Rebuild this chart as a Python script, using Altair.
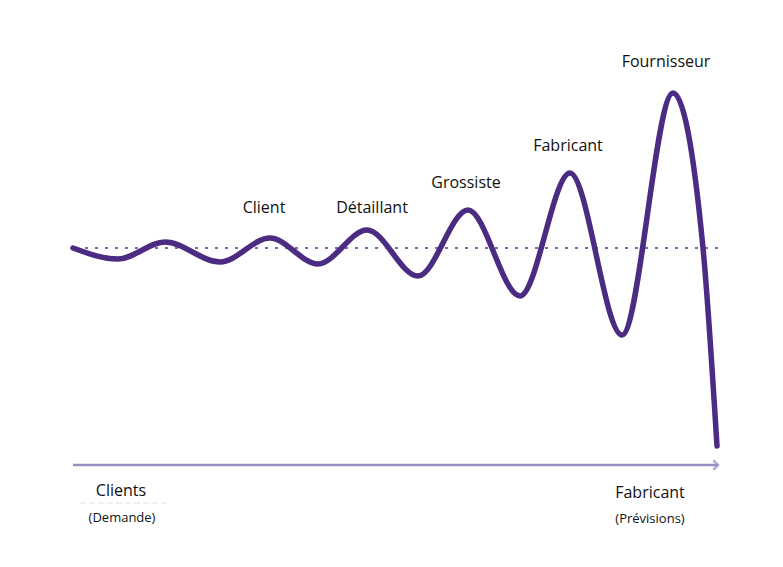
import altair as alt
import pandas as pd

# wave extrema (x position, level relative to baseline)
wave_x = [73, 118, 165, 220, 270, 318, 367, 418, 468, 520, 570, 622, 673, 703, 717]
wave_y = [0, -11, 6, -14, 10, -16, 18, -28, 38, -48, 75, -87, 155, 0, -198]

base_x = [75, 722]
base_y = [0, 0]

arrow_x = [73, 718]
arrow_y = [-217, -217]

faint_x = [80, 170]
faint_y = [-255, -255]

stage_labels = ["Client", "Détaillant", "Grossiste", "Fabricant", "Fournisseur"]
stage_x = [264, 372, 466, 568, 666]
stage_y = [40, 40, 65, 102, 186]

bottom_main = ["Clients", "Fabricant"]
bottom_main_x = [121, 650]
bottom_main_y = [-243, -245]
bottom_sub = ["(Demande)", "(Prévisions)"]
bottom_sub_x = [122, 650]
bottom_sub_y = [-270, -271]

xs = alt.Scale(domain=[8, 775])
ys = alt.Scale(domain=[-311, 240])

wave = pd.DataFrame({"x": wave_x, "y": wave_y, "o": range(len(wave_x))})
base = pd.DataFrame({"x": base_x, "y": base_y})
arrow = pd.DataFrame({"x": arrow_x, "y": arrow_y})
faint = pd.DataFrame({"x": faint_x, "y": faint_y})
stages = pd.DataFrame({"x": stage_x, "y": stage_y, "t": stage_labels})
bm = pd.DataFrame({"x": bottom_main_x, "y": bottom_main_y, "t": bottom_main})
bs = pd.DataFrame({"x": bottom_sub_x, "y": bottom_sub_y, "t": bottom_sub})

X = lambda: alt.X("x:Q", scale=xs, axis=None)
Y = lambda: alt.Y("y:Q", scale=ys, axis=None)

baseline = alt.Chart(base).mark_line(
    color="#7a68ad", strokeWidth=2, strokeDash=[3, 7]
).encode(x=X(), y=Y())

line = alt.Chart(wave).mark_line(
    color="#4b2c82", strokeWidth=5.5, interpolate="monotone", strokeCap="round"
).encode(x=X(), y=Y(), order="o:Q")

arrow_line = alt.Chart(arrow).mark_line(color="#9a8cc4", strokeWidth=2.5).encode(x=X(), y=Y())
arrow_head = alt.Chart(arrow.iloc[[1]]).mark_point(
    shape="M-1,-1L0,0L-1,1", filled=False, color="#9a8cc4", strokeWidth=2.5, size=90
).encode(x=X(), y=Y())

faint_line = alt.Chart(faint).mark_line(
    color="#e2e0ea", strokeWidth=1.2, strokeDash=[6, 3]
).encode(x=X(), y=Y())

stage_text = alt.Chart(stages).mark_text(
    font="Open Sans", fontSize=16, color="#111111", baseline="middle"
).encode(x=X(), y=Y(), text="t:N")

bm_text = alt.Chart(bm).mark_text(
    font="Open Sans", fontSize=16, color="#111111", baseline="middle"
).encode(x=X(), y=Y(), text="t:N")

bs_text = alt.Chart(bs).mark_text(
    font="Open Sans", fontSize=13, color="#111111", baseline="middle"
).encode(x=X(), y=Y(), text="t:N")

chart = alt.layer(
    baseline, line, arrow_line, arrow_head, faint_line, stage_text, bm_text, bs_text
).properties(
    width=767, height=551, padding=0,
    autosize=alt.AutoSizeParams(type="fit", contains="padding"),
    background="white"
).configure_view(stroke=None)

chart.save("out.html", embed_options={"renderer": "svg", "actions": False})
